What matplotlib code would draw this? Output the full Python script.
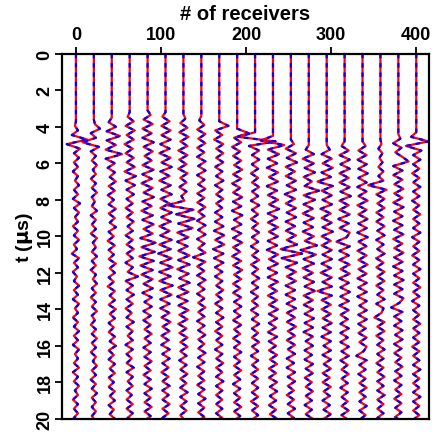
"""Wiggle plot of 20 receiver traces, two overlaid versions (solid / dashed)."""

import numpy as np
import matplotlib
matplotlib.use("Agg")
import matplotlib.pyplot as plt

plt.rcParams["font.family"] = ["Liberation Sans", "DejaVu Sans"]
plt.rcParams["font.weight"] = "bold"
plt.rcParams["mathtext.default"] = "bf"

# sampling of the traces (us) and amplitude scale (receiver units per value)
dt = 0.25
gain = 1.2

receivers = np.linspace(0, 400, 20)
onsets = [3.7, 3.6, 3.5, 3.2, 3.1, 3.2, 3.3, 3.4, 3.7, 4.1,
          4.3, 4.5, 4.7, 5.0, 5.0, 4.8, 4.8, 4.7, 4.4, 4.3]

tr00 = [0, -1, 2, -4, 11, -9, 4, -2, 3, -2, 2, -3, 2, -1, 3, -2,
        2, -3, 4, -2, 3, -1, 2, -3, 2, -2, 3, -2, 1, -4, 3, -2,
        2, -3, 1, -2, 3, -2, 2, -3, 3, -1, 2, -3, 2, -2, 3, -2,
        2, -3, 3, -1, 2, -2, 3, -3, 2, -2, 3, -1, 2, -3, 2, -2, 2, -2]
tr01 = [0, 1, 6, -3, 2, -11, 5, -3, 2, -2, 3, -1, 2, -3, 2, -2,
        3, -2, 1, -2, 3, -3, 2, -2, 2, -3, 3, -1, 2, -2, 3, -2,
        2, -3, 2, -1, 3, -2, 2, -3, 2, -2, 3, -2, 1, -3, 2, -2,
        3, -2, 2, -3, 2, -1, 3, -2, 2, -3, 2, -2, 3, -2, 2, -2, 2, -2]
tr02 = [0, -3, 4, -5, 8, -5, 4, -6, 10, -6, 3, -4, 3, -2, 4, -3,
        3, -4, 2, -3, 4, -3, 3, -2, 4, -3, 2, -4, 3, -3, 2, -3,
        4, -2, 3, -3, 2, -4, 3, -2, 3, -3, 4, -2, 3, -3, 2, -3,
        3, -2, 4, -3, 2, -3, 3, -2, 3, -3, 2, -3, 3, -2, 3, -3, 2, -2, 3]
tr03 = [0, -2, 4, -4, 5, -3, 4, -5, 3, -4, 4, -3, 5, -5, 6, -4,
        5, -3, 4, -3, 3, -4, 3, -3, 4, -2, 3, -4, 3, -3, 4, -3,
        3, -4, 3, -2, 8, -4, 3, -3, 4, -3, 3, -4, 2, -3, 4, -3,
        3, -2, 3, -4, 3, -3, 2, -3, 4, -3, 3, -2, 3, -3, 2, -3,
        3, -3, 3, -2]
tr04 = [0, 3, -4, 5, -5, 4, -5, 6, -4, 5, -3, 4, -5, 6, -5, 4,
        -6, 5, -4, 6, -5, 4, -6, 5, -5, 6, -4, 5, -7, 8, -6, 7,
        -8, 6, -7, 5, -6, 5, -4, 5, -5, 4, -3, 4, -4, 3, -4, 3,
        -3, 4, -3, 3, -4, 3, -3, 4, -3, 3, -4, 3, -3, 4, -3, 3,
        -3, 4, -3, 3, -3]
tr05 = [0, -3, 4, -4, 5, -4, 5, -5, 4, -6, 5, -4, 6, -5, 4, -6,
        5, -4, 6, -5, 4, -5, 6, -4, 5, -6, 4, -5, 6, -6, 5, -7,
        6, -5, 7, -6, 5, -6, 7, -5, 6, -5, 4, -5, 4, -4, 5, -3,
        4, -4, 3, -4, 4, -3, 4, -3, 3, -4, 3, -3, 4, -3, 3, -3,
        4, -3, 3, -3]
tr06 = [0, 2, -3, 4, -4, 5, -3, 4, -5, 4, -4, 3, -5, 4, -3, 3,
        -4, 3, -2, 1, -16, 10, -7, 11, -5, 9, -6, 5, -6, 4, -5, 6,
        -5, 6, -6, 5, -4, 6, -5, 5, -6, 4, -5, 5, -4, 4, -5, 3,
        -4, 4, -3, 4, -3, 3, -4, 3, -3, 4, -3, 3, -3, 4, -3, 3,
        -3, 3, -3]
tr07 = [0, -2, 3, -4, 4, -3, 4, -4, 3, -4, 4, -3, 4, -4, 3, -3,
        4, -4, 3, -4, 4, -3, 3, -4, 4, -3, 4, -4, 3, -3, 4, -8,
        4, -4, 3, -4, 4, -3, 3, -4, 3, -3, 4, -3, 3, -4, 3, -3,
        4, -3, 3, -3, 4, -3, 3, -4, 3, -3, 3, -4, 3, -3, 4, -3,
        3, -3, 3]
tr08 = [0, 9, -4, 3, -5, 4, -3, 4, -3, 4, -4, 3, -3, 4, -4, 3,
        -3, 4, -3, 3, -4, 3, -4, 4, -5, 5, -4, 5, -6, 4, -5, 4,
        -4, 3, -4, 3, -3, 4, -3, 3, -4, 3, -3, 4, -3, 3, -4, 3,
        -3, 3, -4, 3, -3, 4, -3, 3, -3, 4, -3, 3, -3, 3, -3, 3,
        -3, 3]
tr09 = [0, 11, -3, 4, -5, 3, -4, 4, -3, 5, -4, 4, -5, 3, -4, 5,
        -4, 4, -5, 5, -3, 4, -5, 4, -4, 5, -4, 3, -5, 4, -4, 5,
        -3, 4, -4, 3, -4, 4, -3, 4, -3, 3, -4, 4, -3, 3, -4, 3,
        -3, 4, -3, 3, -3, 4, -3, 3, -4, 3, -3, 3, -3, 4, -3, 3, -3]
tr10 = [0, -17, 20, -6, 4, -3, 4, -3, 3, -4, 3, -3, 4, -3, 3, -4,
        4, -3, 3, -4, 3, -3, 4, -3, 3, -4, 3, -3, 4, -4, 3, -3,
        4, -3, 3, -4, 3, -3, 3, -4, 3, -3, 4, -3, 3, -3, 4, -3,
        3, -4, 3, -3, 3, -4, 3, -3, 3, -3, 3, -4, 3, -3, 3, -3]
tr11 = [0, -12, 11, -5, 6, -5, 4, -6, 5, -4, 5, -6, 4, -5, 5, -4,
        6, -5, 4, -5, 5, -4, 5, -5, 4, -6, 5, -4, 5, -5, 4, -5,
        5, -4, 4, -5, 4, -4, 5, -4, 4, -4, 3, -5, 4, -4, 3, -4,
        4, -3, 4, -4, 3, -4, 4, -3, 4, -3, 3, -4, 3, -3, 4]
tr12 = [0, 3, -5, 5, -4, 6, -5, 4, -5, 5, -4, 5, -6, 4, -5, 5,
        -4, 5, -5, 4, -5, 5, -4, 6, -10, 11, -9, 6, -5, 5, -4, 5,
        -5, 4, -5, 4, -4, 5, -4, 4, -4, 5, -3, 4, -4, 4, -3, 4,
        -4, 3, -4, 4, -3, 4, -3, 3, -4, 3, -3, 4, -3, 3]
tr13 = [0, -3, 5, -6, 5, -4, 6, -5, 3, -4, 10, -5, 6, -5, 4, -6,
        5, -5, 4, -6, 5, -4, 8, -8, 7, -5, 5, -6, 4, -5, 5, -4,
        6, -5, 4, -5, 4, -4, 5, -4, 4, -5, 4, -3, 4, -4, 3, -4,
        4, -3, 4, -4, 3, -3, 4, -3, 3, -4, 3, -3, 4]
tr14 = [0, 3, -5, 5, -4, 6, -5, 4, -9, 6, -5, 5, -4, 5, -6, 4,
        -5, 5, -4, 6, -5, 4, -5, 5, -4, 5, -5, 4, -6, 5, -4, 5,
        -9, 5, -5, 4, -5, 4, -4, 5, -4, 4, -5, 4, -3, 4, -4, 4,
        -3, 4, -4, 3, -4, 4, -3, 3, -4, 3, -3, 4, -3]
tr15 = [0, -3, 4, -5, 5, -4, 5, -5, 4, -5, 5, -4, 6, -5, 4, -5,
        5, -6, 4, -5, 5, 2, -8, 5, -5, 4, -5, 5, -4, 5, -5, 4,
        -4, 5, -4, 4, -5, 4, -4, 3, -4, 4, -4, 3, -4, 4, -3, 4,
        -4, 3, -3, 4, -3, 3, -4, 3, -3, 3, -3, 4, -3, 3]
tr16 = [0, 3, -4, 4, -5, 4, -4, 5, -4, 4, -5, 4, -4, 5, -5, 4,
        -4, 5, -4, 4, -5, 5, -4, 4, -5, 4, -4, 5, -4, 4, -5, 4,
        -4, 4, -5, 4, -3, 4, -4, 4, -4, 3, -4, 4, -3, 4, 1, -6,
        4, -3, 3, -4, 3, -3, 4, -3, 3, -3, 4, -3, 3, -3]
tr17 = [0, 1, -2, 2, -1, 2, -2, 3, -2, 3, -12, 6, -4, 4, -3, 4,
        -4, 3, -4, 4, -3, 4, -4, 3, -3, 4, -4, 3, -4, 4, -3, 4,
        -4, 3, -3, 4, -4, 3, 1, -6, 4, -3, 4, -4, 3, -3, 4, -3,
        3, -4, 3, -3, 4, -3, 3, -3, 4, -3, 3, -3, 3, -3]
tr18 = [0, 2, -5, 3, -3, 4, 10, -5, 4, -5, 4, -4, 5, -4, 4, -5,
        5, -4, 4, -5, 4, -4, 5, -5, 4, -4, 5, -4, 4, -5, 4, -4,
        5, -4, 4, -4, 5, 1, -7, 4, -4, 3, -4, 4, -3, 4, -4, 3,
        -4, 3, -3, 4, -3, 3, -4, 3, -3, 3, -4, 3, -3, 3, -3, 3]
tr19 = [0, -5, 12, -10, 5, -3, 4, -3, 3, -4, 3, -3, 4, -3, 3, -4,
        3, -3, 4, -3, 3, -3, 4, -4, 3, -3, 3, -4, 3, -3, 4, -3,
        3, -3, 4, -3, 3, -4, 3, -3, 3, -3, 4, -3, 3, -3, 3, -4,
        3, -3, 3, -3, 4, -3, 3, -3, 3, -3, 4, -3, 3, -3, 3, -3]

traces = [tr00, tr01, tr02, tr03, tr04, tr05, tr06, tr07, tr08, tr09,
          tr10, tr11, tr12, tr13, tr14, tr15, tr16, tr17, tr18, tr19]

t_ticks = np.arange(0, 21, 2)
x_ticks = [0, 100, 200, 300, 400]


def trace_curve(t0, amp):
    amp = np.asarray(amp, float) * gain
    t = t0 + dt * np.arange(len(amp))
    t = np.concatenate([[0.0], t])
    a = np.concatenate([[0.0], amp])
    if t[-1] < 20:
        t = np.append(t, 20.0)
        a = np.append(a, 0.0)
    return a, t


def main():
    fig = plt.figure(figsize=(4.36, 4.35), dpi=100)
    ax = fig.add_axes([0.142, 0.035, 0.842, 0.839])

    for x0, t0, amp in zip(receivers, onsets, traces):
        a, t = trace_curve(t0, amp)
        ax.plot(x0 + a, t, color="red", lw=1.6, solid_joinstyle="round")
        ax.plot(x0 + a, t, color="blue", lw=1.6, dashes=(2.0, 2.2),
                dash_joinstyle="round")

    ax.set_xlim(-16.5, 415)
    ax.set_ylim(20, 0)
    ax.xaxis.tick_top()
    ax.xaxis.set_label_position("top")
    ax.set_xticks(x_ticks)
    ax.set_yticks(t_ticks)
    ax.tick_params(direction="out", length=5, width=1.3, labelsize=13)
    ax.tick_params(axis="x", pad=3)
    ax.tick_params(axis="y", pad=1)
    for lab in ax.get_yticklabels():
        lab.set_rotation(90)
        lab.set_va("center")
    for sp in ax.spines.values():
        sp.set_linewidth(1.6)

    ax.set_xlabel("# of receivers", fontsize=14.5, fontweight="bold", labelpad=5)
    ax.set_ylabel(r"t ($\mu$s)", fontsize=14, fontweight="bold", labelpad=1)

    fig.savefig("out.png", dpi=100)
    plt.close(fig)


if __name__ == "__main__":
    main()
